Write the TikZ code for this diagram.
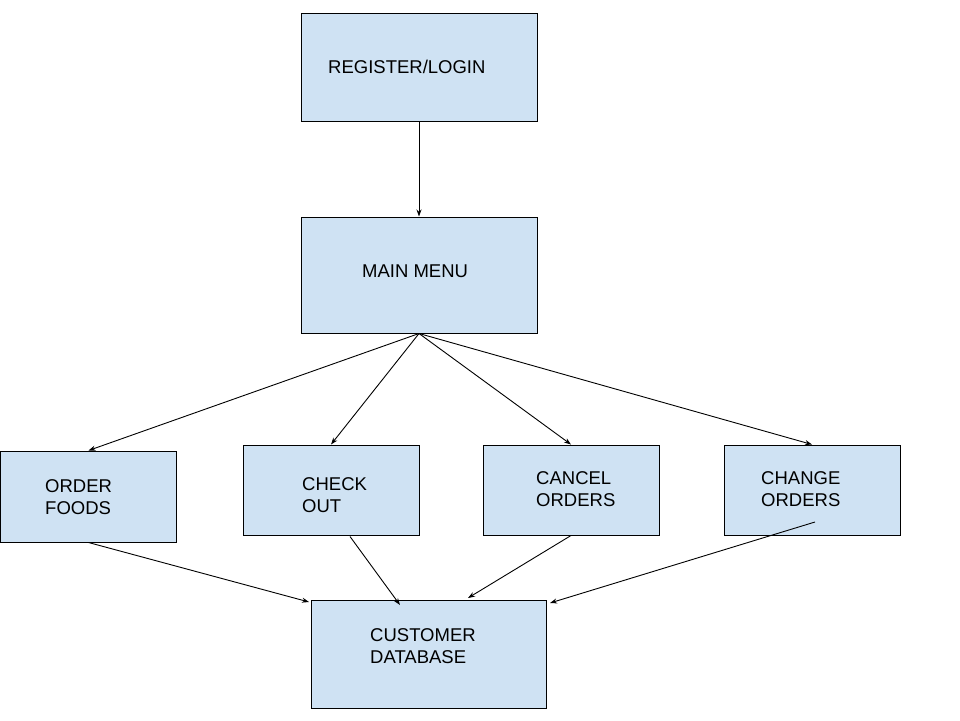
\documentclass[tikz,border=0pt]{standalone}
\usepackage{fontspec}
\setmainfont{Liberation Sans}
\usetikzlibrary{arrows.meta,calc}
\definecolor{boxfill}{HTML}{CFE2F3}
\begin{document}
\begin{tikzpicture}[x=1pt,y=-1pt,
  box/.style={draw=black,fill=boxfill,line width=1pt,inner sep=0pt,minimum width=#1},
  lbl/.style={anchor=west,align=left,inner sep=0pt,font=\fontsize{18.5}{22}\selectfont},
  conn/.style={line width=0.9pt,-{Stealth[length=7pt,width=5pt]}}]
\useasboundingbox[fill=white] (0,0) rectangle (960,720);
% boxes
\node[box=236pt,minimum height=108pt] (reg) at (419,67) {};
\node[box=236pt,minimum height=116pt] (main) at (419,275) {};
\node[box=176pt,minimum height=91pt] (order) at (88.5,496.5) {};
\node[box=176pt,minimum height=90pt] (check) at (331,490) {};
\node[box=176pt,minimum height=90pt] (cancel) at (571,490) {};
\node[box=176pt,minimum height=90pt] (change) at (812,490) {};
\node[box=235pt,minimum height=108pt] (db) at (429,654) {};
% labels
\node[lbl] (tReg) at (328,67) {REGISTER/LOGIN};
\node[lbl] (tMain) at (362,271) {MAIN MENU};
\node[lbl] (tOrder) at (45,497) {ORDER\\FOODS};
\node[lbl] (tCheck) at (302,495) {CHECK\\OUT};
\node[lbl] (tCancel) at (536,489) {CANCEL\\ORDERS};
\node[lbl] (tChange) at (761,489) {CHANGE\\ORDERS};
\node[lbl] (tDb) at (370,646) {CUSTOMER\\DATABASE};
% connector end points
\coordinate (checkOut) at ($(check.south)+(19,1)$);
\coordinate (changeOut) at (815,522);
\coordinate (dbA) at (309,602);
\coordinate (dbB) at (400,605);
\coordinate (dbC) at (468,598);
\coordinate (dbD) at (550,603);
% connectors
\draw[conn] (reg.south) -- (main.north);
\draw[conn] (main.south) -- (order.north);
\draw[conn] (main.south) -- (check.north);
\draw[conn] (main.south) -- (cancel.north);
\draw[conn] (main.south) -- (change.north);
\draw[conn] (order.south) -- (dbA);
\draw[conn] (checkOut) -- (dbB);
\draw[conn] (cancel.south) -- (dbC);
\draw[conn] (changeOut) -- (dbD);
\end{tikzpicture}
\end{document}
